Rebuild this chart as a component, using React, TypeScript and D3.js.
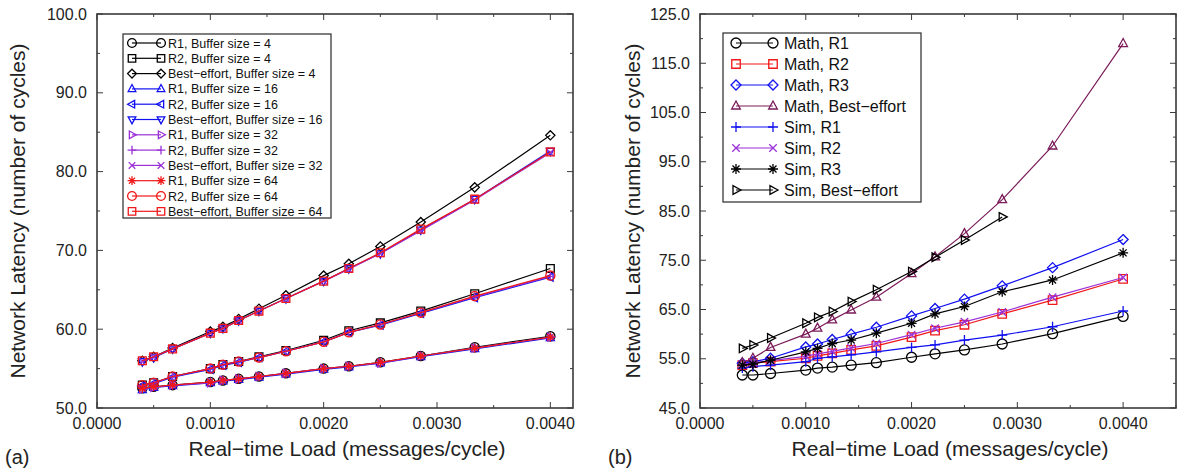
import React, { useEffect, useRef } from 'react'
import * as d3 from 'd3'

// loads (messages/cycle) = 1 / period
const loads = [0.0004, 0.0005, 0.000667, 0.001, 0.001111, 0.00125, 0.001429, 0.001667, 0.002, 0.002222, 0.0025, 0.002857, 0.003333, 0.004]

// panel (a)
const r1Buf4 = [52.5, 52.7, 52.9, 53.3, 53.5, 53.7, 54.0, 54.4, 55.0, 55.3, 55.8, 56.6, 57.7, 59.1]
const r2Buf4 = [52.9, 53.2, 54.0, 55.0, 55.5, 55.9, 56.5, 57.3, 58.6, 59.8, 60.8, 62.3, 64.5, 67.7]
const beBuf4 = [56.0, 56.5, 57.6, 59.7, 60.3, 61.3, 62.6, 64.3, 66.8, 68.3, 70.5, 73.6, 78.0, 84.6]
const r1Buf16 = [52.3, 52.6, 52.8, 53.2, 53.4, 53.6, 53.9, 54.3, 54.9, 55.2, 55.7, 56.5, 57.5, 58.9]
const r2Buf16 = [52.8, 53.1, 53.9, 54.9, 55.4, 55.8, 56.4, 57.2, 58.4, 59.6, 60.5, 62.0, 64.0, 66.6]
const beBuf16 = [55.9, 56.4, 57.5, 59.5, 60.1, 61.1, 62.3, 63.9, 66.1, 67.7, 69.6, 72.6, 76.5, 82.6]
const r1Buf32 = [52.4, 52.6, 52.9, 53.2, 53.5, 53.7, 54.0, 54.4, 55.0, 55.3, 55.7, 56.6, 57.6, 59.0]
const r2Buf32 = [52.8, 53.2, 54.0, 55.0, 55.5, 55.9, 56.4, 57.2, 58.4, 59.6, 60.6, 62.1, 64.1, 66.7]
const beBuf32 = [55.9, 56.5, 57.5, 59.5, 60.1, 61.1, 62.3, 63.9, 66.1, 67.6, 69.6, 72.5, 76.4, 82.4]
const r1Buf64 = [52.5, 52.7, 52.9, 53.3, 53.5, 53.7, 54.0, 54.4, 55.0, 55.3, 55.8, 56.6, 57.6, 59.0]
const r2Buf64 = [52.9, 53.2, 54.0, 55.0, 55.5, 55.9, 56.4, 57.2, 58.4, 59.6, 60.6, 62.1, 64.2, 66.8]
const beBuf64 = [56.0, 56.5, 57.5, 59.5, 60.1, 61.1, 62.3, 63.9, 66.1, 67.7, 69.7, 72.7, 76.5, 82.5]

// panel (b)
const mathR1 = [51.7, 51.7, 52.0, 52.7, 53.1, 53.3, 53.7, 54.2, 55.3, 56.0, 56.8, 58.0, 60.1, 63.6]
const mathR2 = [53.7, 54.1, 54.4, 55.1, 55.6, 56.1, 56.8, 57.6, 59.4, 60.7, 61.9, 64.1, 66.9, 71.2]
const mathR3 = [54.1, 54.4, 55.1, 57.4, 58.0, 58.9, 60.0, 61.4, 63.7, 65.2, 67.1, 69.8, 73.5, 79.2]
const mathBE = [54.2, 55.1, 57.3, 60.0, 61.2, 62.9, 64.9, 67.5, 72.3, 75.7, 80.4, 87.3, 98.2, 119.0]
const simR1 = [53.1, 53.4, 53.7, 54.4, 55.1, 55.4, 55.8, 56.4, 57.3, 57.8, 58.8, 59.8, 61.5, 64.7]
const simR2 = [53.8, 54.2, 54.6, 55.5, 56.0, 56.5, 57.2, 58.1, 59.9, 61.2, 62.5, 64.5, 67.5, 71.5]
const simR3 = [53.7, 53.9, 54.7, 56.4, 57.1, 58.1, 58.8, 60.2, 62.2, 64.1, 65.6, 68.6, 71.0, 76.5]
const simBE = [57.1, 57.8, 59.2, 62.2, 63.4, 64.6, 66.6, 69.0, 72.7, 75.6, 79.1, 83.8]

const xTicksA = [0, 0.001, 0.002, 0.003, 0.004]
const yTicksA = [50, 60, 70, 80, 90, 100]
const yTicksB = [45, 55, 65, 75, 85, 95, 105, 115, 125]

const BLACK = '#000000'
const BLUE = '#1010f0'
const VIOLET = '#9a2fd6'
const RED = '#f01818'
const MAROON = '#7a1a58'
const FONT = '"Liberation Sans", Arial, Helvetica, sans-serif'

type Series = { name: string; values: number[]; color: string; marker: string }

const seriesA: Series[] = [
  { name: 'R1, Buffer size = 4', values: r1Buf4, color: BLACK, marker: 'circle' },
  { name: 'R2, Buffer size = 4', values: r2Buf4, color: BLACK, marker: 'square' },
  { name: 'Best\u2212effort, Buffer size = 4', values: beBuf4, color: BLACK, marker: 'diamond' },
  { name: 'R1, Buffer size = 16', values: r1Buf16, color: BLUE, marker: 'triUp' },
  { name: 'R2, Buffer size = 16', values: r2Buf16, color: BLUE, marker: 'triLeft' },
  { name: 'Best\u2212effort, Buffer size = 16', values: beBuf16, color: BLUE, marker: 'triDown' },
  { name: 'R1, Buffer size = 32', values: r1Buf32, color: VIOLET, marker: 'triRight' },
  { name: 'R2, Buffer size = 32', values: r2Buf32, color: VIOLET, marker: 'plus' },
  { name: 'Best\u2212effort, Buffer size = 32', values: beBuf32, color: VIOLET, marker: 'x' },
  { name: 'R1, Buffer size = 64', values: r1Buf64, color: RED, marker: 'star' },
  { name: 'R2, Buffer size = 64', values: r2Buf64, color: RED, marker: 'circle' },
  { name: 'Best\u2212effort, Buffer size = 64', values: beBuf64, color: RED, marker: 'square' },
]

const seriesB: Series[] = [
  { name: 'Math, R1', values: mathR1, color: BLACK, marker: 'circle' },
  { name: 'Math, R2', values: mathR2, color: RED, marker: 'square' },
  { name: 'Math, R3', values: mathR3, color: BLUE, marker: 'diamond' },
  { name: 'Math, Best\u2212effort', values: mathBE, color: MAROON, marker: 'triUp' },
  { name: 'Sim, R1', values: simR1, color: BLUE, marker: 'plus' },
  { name: 'Sim, R2', values: simR2, color: VIOLET, marker: 'x' },
  { name: 'Sim, R3', values: simR3, color: BLACK, marker: 'star' },
  { name: 'Sim, Best\u2212effort', values: simBE, color: BLACK, marker: 'triRight' },
]

function markerPath(kind: string, r: number) {
  const p = d3.path()
  const h = r * 0.87
  switch (kind) {
    case 'circle':
      p.moveTo(r, 0)
      p.arc(0, 0, r, 0, Math.PI * 2)
      break
    case 'square':
      p.rect(-r * 0.85, -r * 0.85, r * 1.7, r * 1.7)
      break
    case 'diamond':
      p.moveTo(0, -r); p.lineTo(r, 0); p.lineTo(0, r); p.lineTo(-r, 0); p.closePath()
      break
    case 'triUp':
      p.moveTo(0, -r); p.lineTo(h, r * 0.6); p.lineTo(-h, r * 0.6); p.closePath()
      break
    case 'triDown':
      p.moveTo(0, r); p.lineTo(h, -r * 0.6); p.lineTo(-h, -r * 0.6); p.closePath()
      break
    case 'triLeft':
      p.moveTo(-r, 0); p.lineTo(r * 0.6, -h); p.lineTo(r * 0.6, h); p.closePath()
      break
    case 'triRight':
      p.moveTo(r, 0); p.lineTo(-r * 0.6, -h); p.lineTo(-r * 0.6, h); p.closePath()
      break
    case 'plus':
      p.moveTo(-r, 0); p.lineTo(r, 0); p.moveTo(0, -r); p.lineTo(0, r)
      break
    case 'x':
      p.moveTo(-r * 0.75, -r * 0.75); p.lineTo(r * 0.75, r * 0.75)
      p.moveTo(-r * 0.75, r * 0.75); p.lineTo(r * 0.75, -r * 0.75)
      break
    case 'star':
      p.moveTo(-r, 0); p.lineTo(r, 0); p.moveTo(0, -r); p.lineTo(0, r)
      p.moveTo(-r * 0.7, -r * 0.7); p.lineTo(r * 0.7, r * 0.7)
      p.moveTo(-r * 0.7, r * 0.7); p.lineTo(r * 0.7, -r * 0.7)
      break
  }
  return p.toString()
}

type Panel = {
  left: number; right: number; top: number; bottom: number
  xDomain: [number, number]; yDomain: [number, number]
  xTicks: number[]; yTicks: number[]
  series: Series[]; markerR: number
  legend: { x: number; y: number; w: number; h: number; row0: number; dy: number; lineX0: number; lineX1: number; textX: number; font: number; markerR: number }
  tag: string; yTitleX: number
}

function drawPanel(svg: any, cfg: Panel) {
  const x = d3.scaleLinear().domain(cfg.xDomain).range([cfg.left, cfg.right])
  const y = d3.scaleLinear().domain(cfg.yDomain).range([cfg.bottom, cfg.top])
  const g = svg.append('g')
  const axisColor = '#3a3a3a'

  // frame + inward ticks (major & minor) on all sides
  const xStep = cfg.xTicks[1] - cfg.xTicks[0]
  const yStep = cfg.yTicks[1] - cfg.yTicks[0]
  const xAll = d3.range(cfg.xDomain[0], cfg.xDomain[1] + 1e-9, xStep / 2)
  const yAll = d3.range(cfg.yDomain[0], cfg.yDomain[1] + 1e-9, yStep / 2)
  const isMajor = (v: number, step: number, base: number) => Math.abs(((v - base) / step) - Math.round((v - base) / step)) < 1e-6
  xAll.forEach((v) => {
    const len = isMajor(v, xStep, cfg.xTicks[0]) ? 6 : 3
    g.append('line').attr('x1', x(v)).attr('x2', x(v)).attr('y1', cfg.bottom).attr('y2', cfg.bottom - len).attr('stroke', axisColor)
    g.append('line').attr('x1', x(v)).attr('x2', x(v)).attr('y1', cfg.top).attr('y2', cfg.top + len).attr('stroke', axisColor)
  })
  yAll.forEach((v) => {
    const len = isMajor(v, yStep, cfg.yTicks[0]) ? 6 : 3
    g.append('line').attr('x1', cfg.left).attr('x2', cfg.left + len).attr('y1', y(v)).attr('y2', y(v)).attr('stroke', axisColor)
    g.append('line').attr('x1', cfg.right).attr('x2', cfg.right - len).attr('y1', y(v)).attr('y2', y(v)).attr('stroke', axisColor)
  })
  g.append('rect').attr('x', cfg.left).attr('y', cfg.top).attr('width', cfg.right - cfg.left).attr('height', cfg.bottom - cfg.top)
    .attr('fill', 'none').attr('stroke', axisColor).attr('stroke-width', 1.6)

  g.selectAll('.xt').data(cfg.xTicks).enter().append('text')
    .attr('x', (d: number) => x(d)).attr('y', cfg.bottom + 21).attr('text-anchor', 'middle')
    .attr('font-size', 16).attr('font-family', FONT).attr('fill', '#222').text((d: number) => d.toFixed(4))
  g.selectAll('.yt').data(cfg.yTicks).enter().append('text')
    .attr('x', cfg.left - 10).attr('y', (d: number) => y(d)).attr('dy', '0.35em').attr('text-anchor', 'end')
    .attr('font-size', 16).attr('font-family', FONT).attr('fill', '#222').text((d: number) => d.toFixed(1))

  g.append('text').attr('x', (cfg.left + cfg.right) / 2 + 12).attr('y', 456).attr('text-anchor', 'middle')
    .attr('font-size', 21).attr('font-family', FONT).attr('fill', '#222').text('Real\u2212time Load (messages/cycle)')
  g.append('text').attr('transform', `translate(${cfg.yTitleX},${(cfg.top + cfg.bottom) / 2}) rotate(-90)`)
    .attr('text-anchor', 'middle').attr('font-size', 21).attr('font-family', FONT).attr('fill', '#222')
    .text('Network Latency (number of cycles)')
  g.append('text').attr('x', cfg.left - 92).attr('y', 464).attr('font-size', 20).attr('font-family', FONT)
    .attr('fill', '#222').text(cfg.tag)

  const line = d3.line<number>().x((_d, i) => x(loads[i])).y((d) => y(d))
  cfg.series.forEach((s) => {
    const sg = g.append('g')
    sg.append('path').attr('d', line(s.values)).attr('fill', 'none').attr('stroke', s.color).attr('stroke-width', 1.2)
    sg.selectAll('path.m').data(s.values).enter().append('path')
      .attr('transform', (d: number, i: number) => `translate(${x(loads[i])},${y(d)})`)
      .attr('d', markerPath(s.marker, cfg.markerR)).attr('fill', 'none').attr('stroke', s.color).attr('stroke-width', 1.3)
  })

  // legend
  const L = cfg.legend
  const lg = g.append('g')
  lg.append('rect').attr('x', L.x).attr('y', L.y).attr('width', L.w).attr('height', L.h)
    .attr('fill', '#fff').attr('stroke', axisColor).attr('stroke-width', 1.3)
  cfg.series.forEach((s, i) => {
    const cy = L.row0 + i * L.dy
    lg.append('line').attr('x1', L.lineX0).attr('x2', L.lineX1).attr('y1', cy).attr('y2', cy).attr('stroke', s.color).attr('stroke-width', 1.2)
    ;[L.lineX0, L.lineX1].forEach((mx) => {
      lg.append('path').attr('transform', `translate(${mx},${cy})`).attr('d', markerPath(s.marker, L.markerR))
        .attr('fill', 'none').attr('stroke', s.color).attr('stroke-width', 1.3)
    })
    lg.append('text').attr('x', L.textX).attr('y', cy).attr('dy', '0.36em').attr('font-size', L.font)
      .attr('font-family', FONT).attr('fill', '#111').text(s.name)
  })
}

export default function App() {
  const ref = useRef<SVGSVGElement>(null)

  useEffect(() => {
    const svg = d3.select(ref.current)
    svg.selectAll('*').remove()

    drawPanel(svg, {
      left: 97, right: 573, top: 14, bottom: 408,
      xDomain: [0, 0.0042], yDomain: [50, 100],
      xTicks: xTicksA, yTicks: yTicksA,
      series: seriesA, markerR: 4.6,
      legend: { x: 123, y: 34, w: 208, h: 184, row0: 43, dy: 15.3, lineX0: 132, lineX1: 161, textX: 168, font: 12.5, markerR: 4.4 },
      tag: '(a)', yTitleX: 25,
    })

    drawPanel(svg, {
      left: 700, right: 1176, top: 14, bottom: 408,
      xDomain: [0, 0.0045], yDomain: [45, 125],
      xTicks: xTicksA, yTicks: yTicksB,
      series: seriesB, markerR: 5,
      legend: { x: 723, y: 33, w: 198, h: 169, row0: 43, dy: 21, lineX0: 736, lineX1: 773, textX: 784, font: 16, markerR: 5 },
      tag: '(b)', yTitleX: 640,
    })
  }, [])

  return (
    <svg ref={ref} width={1180} height={472} style={{ position: 'absolute', left: 0, top: 0, background: '#fff' }} />
  )
}
